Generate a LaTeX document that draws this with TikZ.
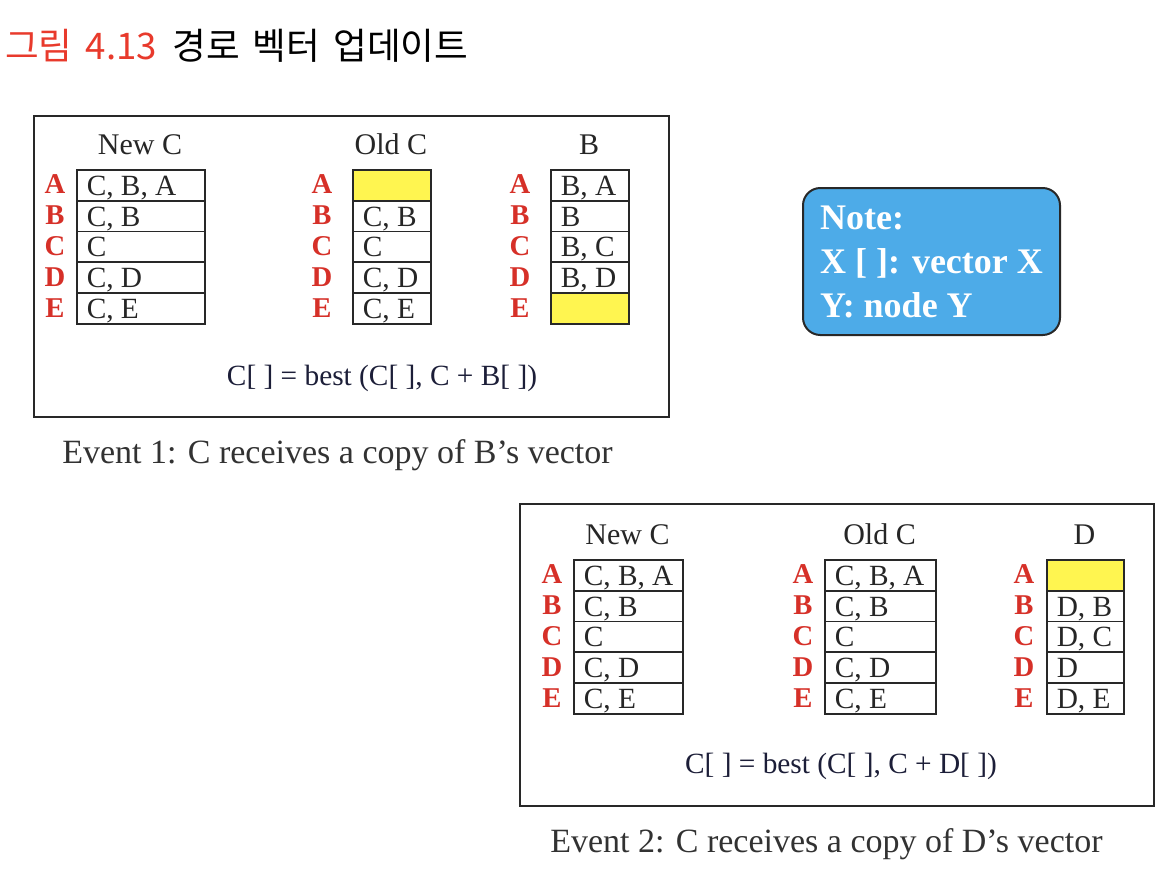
\documentclass[tikz,border=0pt]{standalone}
\usepackage{fontspec}
\setmainfont{Liberation Serif}
\newfontfamily\kr[WordSpace=1.6]{Noto Sans CJK KR}
\definecolor{titlered}{RGB}{232,58,44}
\definecolor{labred}{RGB}{214,48,40}
\definecolor{hl}{RGB}{255,245,80}
\definecolor{notefill}{RGB}{77,171,232}
\definecolor{boxline}{RGB}{40,40,40}
\definecolor{capgray}{RGB}{50,50,50}
\definecolor{formcol}{RGB}{28,30,56}
\tikzset{
  outerbox/.style={draw=boxline, line width=1.5pt, inner sep=0pt},
  cell/.style={draw=boxline, line width=1.3pt, inner sep=0pt, minimum height=30.8*0.75pt},
  celltext/.style={inner sep=0pt, text=black!85, font=\fontsize{22}{26}\selectfont},
  coltitle/.style={inner sep=0pt, text=black!85, font=\fontsize{22.5}{26}\selectfont},
  rowlab/.style={inner sep=0pt, text=labred, font=\bfseries\fontsize{21.5}{24}\selectfont},
  formula/.style={inner sep=0pt, text=formcol, font=\fontsize{22}{26}\selectfont},
  caption/.style={inner sep=0pt, text=capgray, font=\fontsize{25.5}{30}\selectfont},
  note/.style={draw=boxline, line width=1.5pt, fill=notefill, rounded corners=13pt,
    minimum width=257*0.75pt, minimum height=147*0.75pt, inner sep=0pt,
    align=left, text=white, font=\bfseries\fontsize{27}{33}\selectfont},
  ktitle/.style={inner sep=0pt, font=\kr\fontsize{27.5}{32}\selectfont}
}
% #1 prefix, #2 left x, #3 width, #4 top y, #5 letter x, #6 title, #7 entries text/fill
\newcommand\vtab[7]{%
  \node[coltitle, anchor=base] (#1h) at ({#2+#3/2},{#4-15}) {#6};
  \foreach \t/\f [count=\i] in {#7} {%
    \node[cell, fill=\f, minimum width=#3*0.75pt, anchor=north west] (#1\i) at (#2,{#4+(\i-1)*30.8}) {};
    \node[celltext, anchor=base west] (#1t\i) at ([xshift=10.5*0.75pt, yshift=-10*0.75pt]#1\i.west) {\t};
  }
  \foreach \l [count=\i] in {A,B,C,D,E} {%
    \node[rowlab, anchor=base] (#1l\i) at (#5,{#4+(\i-0.5)*30.8+9.5}) {\l};
  }
}
\begin{document}
\begin{tikzpicture}[x=0.75pt,y=-0.75pt]
\useasboundingbox (0,0) rectangle (1172,871);
% title
\node[ktitle, text=titlered, anchor=base west] (t1) at (5,59) {그림 4.13};
\node[ktitle, text=black, anchor=base west] (t2) at (172,59) {경로 벡터 업데이트};
% event 1
\node[outerbox, minimum width=635*0.75pt, minimum height=301*0.75pt, anchor=north west] (box1) at (33,115) {};
\vtab{na}{76}{128}{169}{55}{New C}{{C, B, A}/white,{C, B}/white,C/white,{C, D}/white,{C, E}/white}
\vtab{oa}{352}{78}{169}{322}{Old C}{{}/hl,{C, B}/white,C/white,{C, D}/white,{C, E}/white}
\vtab{ba}{550}{78}{169}{520}{B}{{B, A}/white,B/white,{B, C}/white,{B, D}/white,{}/hl}
\node[formula, anchor=base] (f1) at (382,385) {C[ ] = best (C[ ], C + B[ ])};
\node[caption, anchor=base west] (c1) at (62,463) {Event 1: C receives a copy of B’s vector};
% note
\node[note] (note) at (931.5,261.5) {Note:\\X [ ]: vector X\\Y: node Y};
% event 2
\node[outerbox, minimum width=634*0.75pt, minimum height=302*0.75pt, anchor=north west] (box2) at (519,503) {};
\vtab{nb}{573}{109}{559}{552}{New C}{{C, B, A}/white,{C, B}/white,C/white,{C, D}/white,{C, E}/white}
\vtab{ob}{824}{111}{559}{803}{Old C}{{C, B, A}/white,{C, B}/white,C/white,{C, D}/white,{C, E}/white}
\vtab{db}{1046}{77}{559}{1024}{D}{{}/hl,{D, B}/white,{D, C}/white,D/white,{D, E}/white}
\node[formula, anchor=base] (f2) at (841,773) {C[ ] = best (C[ ], C + D[ ])};
\node[caption, anchor=base west] (c2) at (550,852) {Event 2: C receives a copy of D’s vector};
\end{tikzpicture}
\end{document}
